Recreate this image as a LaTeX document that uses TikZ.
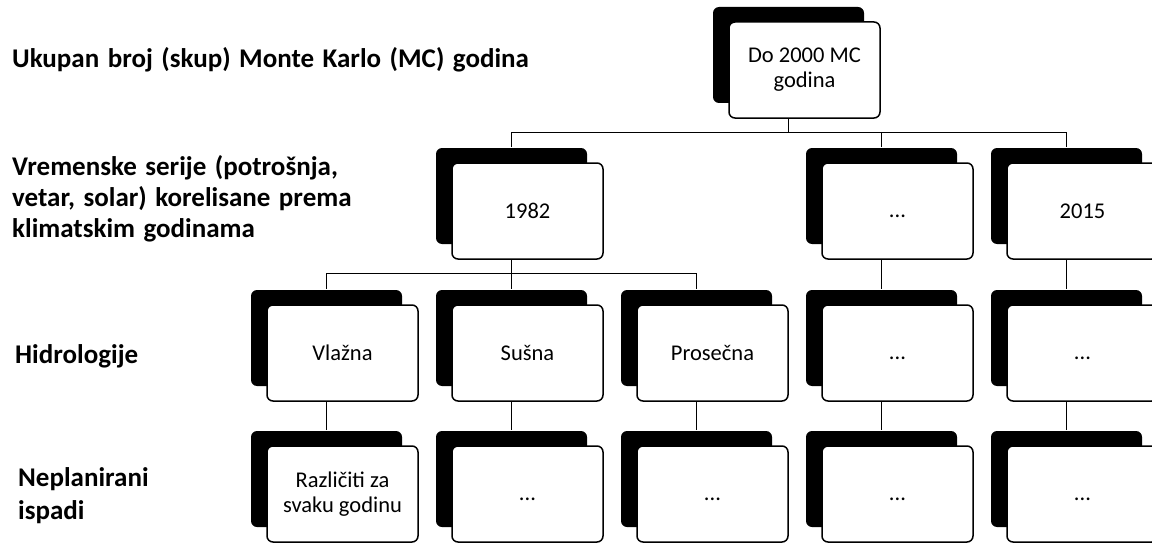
\documentclass[tikz,border=0pt]{standalone}
\usepackage{fontspec}
\setmainfont{Carlito}
\usetikzlibrary{shadows}

\newcommand{\more}{\raisebox{-6pt}[0pt][0pt]{...}}
\newcommand{\widespace}{\spaceskip=8.5pt plus 1pt\relax}

\tikzset{
  cell/.style={draw=black, line width=1.5pt, fill=white, rounded corners=6pt,
    minimum width=151pt, minimum height=96pt, align=center, inner sep=2pt,
    font=\fontsize{22.5}{25}\selectfont,
    general shadow={fill=black, shadow xshift=-16pt, shadow yshift=15pt}},
  level/.style={anchor=west, align=left, inner sep=0pt,
    font=\bfseries\fontsize{27}{31}\selectfont\widespace},
  link/.style={line width=1.1pt},
}

\begin{document}
\begin{tikzpicture}[x=1pt, y=-1pt]
    \useasboundingbox (0,0) rectangle (1152,543);
    \clip (0,0) rectangle (1152,543);
    % level labels
    \node[level, anchor=base west] (lvlmc) at (12,67) {Ukupan broj (skup) Monte Karlo (MC) godina};
    \node[level] (lvlser) at (12,199) {Vremenske serije (potrošnja,\\vetar, solar) korelisane prema\\klimatskim godinama};
    \node[level, anchor=base west] (lvlhyd) at (15,363) {Hidrologije};
    \node[level, font=\bfseries\fontsize{27}{33}\selectfont] (lvlout) at (18,496) {Neplanirani\\ispadi};
    % top
    \node[cell] (top) at (804.5,70) {Do 2000 MC\\godina};
    % climate years
    \node[cell] (y1982) at (527.5,211) {1982};
    \node[cell] (ydots) at (897.5,211) {\more};
    \node[cell] (y2015) at (1082.5,211) {2015};
    % hydrologies
    \node[cell] (h1) at (342.5,353) {Vlažna};
    \node[cell] (h2) at (527.5,353) {Sušna};
    \node[cell] (h3) at (712.5,353) {Prosečna};
    \node[cell] (h4) at (897.5,353) {\more};
    \node[cell] (h5) at (1082.5,353) {\more};
    % outages
    \node[cell] (o1) at (342.5,494) {Različiti za\\svaku godinu};
    \node[cell] (o2) at (527.5,494) {\more};
    \node[cell] (o3) at (712.5,494) {\more};
    \node[cell] (o4) at (897.5,494) {\more};
    \node[cell] (o5) at (1082.5,494) {\more};
    % connectors
    \foreach \c in {y1982, ydots, y2015}
        \draw[link] ([xshift=-16pt]top.south) -- ++(0,14) -| ([xshift=-16pt, yshift=15pt]\c.north);
    \foreach \c in {h1, h2, h3}
        \draw[link] ([xshift=-16pt]y1982.south) -- ++(0,14) -| ([xshift=-16pt, yshift=15pt]\c.north);
    \draw[link] ([xshift=-16pt]ydots.south) -- ([xshift=-16pt, yshift=15pt]h4.north);
    \draw[link] ([xshift=-16pt]y2015.south) -- ([xshift=-16pt, yshift=15pt]h5.north);
    \foreach \i in {1,...,5}
        \draw[link] ([xshift=-16pt]h\i.south) -- ([xshift=-16pt, yshift=15pt]o\i.north);
\end{tikzpicture}
\end{document}
